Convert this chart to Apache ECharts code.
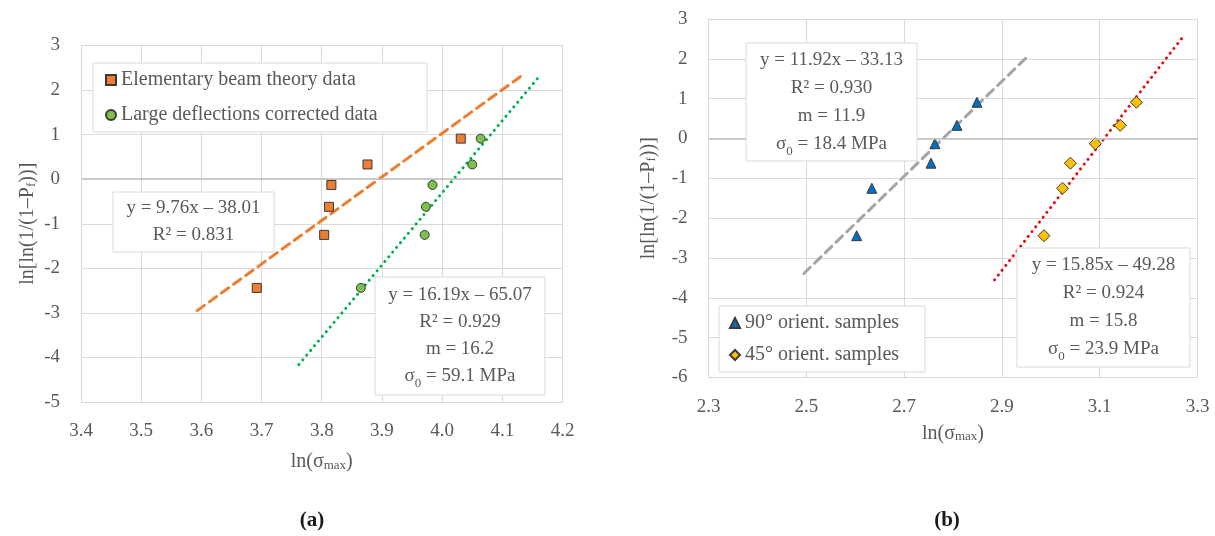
<!DOCTYPE html>
<html>
<head>
<meta charset="utf-8">
<title>Weibull plots</title>
<style>
  html, body { margin: 0; padding: 0; background: #fff; }
  .chart { width: 1215px; height: 536px; }
</style>
</head>
<body>
<div class="chart"></div>
<script src="https://cdn.jsdelivr.net/npm/echarts/dist/echarts.min.js"></script>
<script>
// ---- data ----
// ln[ln(1/(1-Pf))] for the six ranked samples (same for every set)
var rankY = [-2.44, -1.25, -0.62, -0.13, 0.33, 0.91];
// (a) ln(sigma_max)
var beamX = [3.692, 3.804, 3.812, 3.816, 3.876, 4.031];
var largeX = [3.865, 3.971, 3.973, 3.984, 4.050, 4.064];
// (b) ln(sigma_max)
var deg90X = [2.603, 2.634, 2.755, 2.763, 2.808, 2.849];
var deg45X = [2.986, 3.024, 3.040, 3.091, 3.142, 3.175];
// trendline end points
var beamTrend = [[3.593, -2.95], [4.132, 2.32]];
var largeTrend = [[3.762, -4.16], [4.164, 2.35]];
var deg90Trend = [[2.495, -3.39], [2.955, 2.09]];
var deg45Trend = [[2.885, -3.55], [3.270, 2.55]];
// axis ranges [min, max, step]
var xRangeA = [3.4, 4.2, 0.1];
var yRangeA = [-5, 3, 1];
var xRangeB = [2.3, 3.3, 0.2];
var yRangeB = [-6, 3, 1];
// series names and the trendline labels
var namesA = ['Elementary beam theory data', 'Large deflections corrected data'];
var namesB = ['90° orient. samples', '45° orient. samples'];
var eqBeam = ['y = 9.76x – 38.01', 'R² = 0.831'];
var eqLarge = ['y = 16.19x – 65.07', 'R² = 0.929', 'm = 16.2', 'σ{sub|0} = 59.1 MPa'];
var eq90 = ['y = 11.92x – 33.13', 'R² = 0.930', 'm = 11.9', 'σ{sub|0} = 18.4 MPa'];
var eq45 = ['y = 15.85x – 49.28', 'R² = 0.924', 'm = 15.8', 'σ{sub|0} = 23.9 MPa'];

(function () {
  var FONT = 'Liberation Serif';
  var GREY = '#595959';
  var GRIDC = '#d9d9d9';
  var subRich = { sub: { fontFamily: FONT, fontSize: 13, lineHeight: 13, verticalAlign: 'bottom', color: GREY, fill: GREY } };

  function pairs(xs, ys) {
    return xs.map(function (x, i) { return [x, ys[i]]; });
  }

  function xAxisOf(gi, r, gap) {
    return {
      type: 'value', gridIndex: gi, min: r[0], max: r[1], interval: r[2],
      name: 'ln(σ{sub|max})', nameLocation: 'middle', nameGap: gap,
      nameTextStyle: { fontFamily: FONT, fontSize: 20, color: GREY, rich: subRich },
      axisLine: { show: false },
      axisTick: { show: false },
      axisLabel: {
        margin: 20, color: GREY, fontFamily: FONT, fontSize: 19,
        formatter: function (v) { return v.toFixed(1); }
      },
      splitLine: { show: true, lineStyle: { color: GRIDC, width: 1 } }
    };
  }

  function yAxisOf(gi, r, gap) {
    return {
      type: 'value', gridIndex: gi, min: r[0], max: r[1], interval: r[2],
      name: 'ln[ln(1/(1–P{sub|f}))]', nameLocation: 'middle', nameGap: gap, nameRotate: 90,
      nameTextStyle: { fontFamily: FONT, fontSize: 20, color: GREY, rich: subRich },
      axisLine: { show: false },
      axisTick: { show: false },
      axisLabel: { margin: 21, color: GREY, fontFamily: FONT, fontSize: 19 },
      splitLine: { show: true, lineStyle: { color: GRIDC, width: 1 } }
    };
  }

  // trendline as a two point line
  function trend(gi, data, color, dash) {
    return {
      type: 'line', xAxisIndex: gi, yAxisIndex: gi, data: data,
      symbol: 'none', silent: true, z: 2,
      lineStyle: { color: color, width: 3, type: dash, cap: 'round' }
    };
  }

  function scatter(gi, name, data, symbol, size, color, zeroLine) {
    var s = {
      type: 'scatter', name: name, xAxisIndex: gi, yAxisIndex: gi, data: data,
      symbol: symbol, symbolSize: size, z: 4,
      itemStyle: { color: color, borderColor: '#3a3a3a', borderWidth: 1, opacity: 1 }
    };
    if (zeroLine) {
      // Excel draws the horizontal axis at y = 0
      s.markLine = {
        silent: true, symbol: 'none', label: { show: false },
        lineStyle: { color: '#bfbfbf', type: 'solid', width: 1.5 },
        data: [{ yAxis: 0 }]
      };
    }
    return s;
  }

  // white text box for the trendline equation, kept above grid lines
  function eqBox(x, y, w, h, lines, lh) {
    return {
      type: 'group', x: x, y: y, z: 100,
      children: [
        { type: 'rect', z: 100, shape: { x: 0, y: 0, width: w, height: h },
          style: { fill: '#fff', stroke: GRIDC, lineWidth: 1 } },
        { type: 'text', z: 101, x: w / 2, y: h / 2,
          style: {
            text: lines.join('\n'), align: 'center', verticalAlign: 'middle',
            fontFamily: FONT, fontSize: 19, lineHeight: lh, fill: GREY, rich: subRich
          } }
      ]
    };
  }

  function legendOf(names, left, top, pad, gap, textW) {
    return {
      data: names, left: left, top: top, orient: 'vertical', z: 100,
      padding: pad, itemGap: gap, itemWidth: 10, itemHeight: 10,
      backgroundColor: '#fff', borderColor: GRIDC, borderWidth: 1,
      selectedMode: false,
      textStyle: { fontFamily: FONT, fontSize: 20, color: GREY, width: textW, lineHeight: 20 }
    };
  }

  var myChart = echarts.init(document.querySelector('.chart'));
  var option = {
    animation: false,
    backgroundColor: '#fff',
    textStyle: { fontFamily: FONT },
    grid: [
      { left: 81, top: 45.5, width: 481.5, height: 356.5 },
      { left: 708.5, top: 19, width: 489, height: 358.5 }
    ],
    xAxis: [xAxisOf(0, xRangeA, 50), xAxisOf(1, xRangeB, 46)],
    yAxis: [yAxisOf(0, yRangeA, 43), yAxisOf(1, yRangeB, 50)],
    legend: [
      legendOf(namesA, 93, 63, [7, 10, 7, 12], 15, 296),
      legendOf(namesB, 719, 306, [7, 8, 7, 10], 12, 172)
    ],
    series: [
      trend(0, beamTrend, '#ED7D31', [9, 6]),
      trend(0, largeTrend, '#00B050', [0.1, 6]),
      trend(1, deg90Trend, '#A5A5A5', [9, 6]),
      trend(1, deg45Trend, '#E01010', [0.1, 6]),
      scatter(0, namesA[0], pairs(beamX, rankY), 'rect', 9, '#ED7D31', true),
      scatter(0, namesA[1], pairs(largeX, rankY), 'circle', 9, '#7CC04B', false),
      scatter(1, namesB[0], pairs(deg90X, rankY), 'triangle', 10, '#0070C0', true),
      scatter(1, namesB[1], pairs(deg45X, rankY), 'diamond', 12, '#FFC000', false)
    ],
    graphic: [
      eqBox(113, 192, 161, 60, eqBeam, 27),
      eqBox(375, 277, 170, 118, eqLarge, 27),
      eqBox(746, 43, 171, 118, eq90, 28),
      eqBox(1017, 248, 173, 119, eq45, 28),
      { type: 'text', x: 312, y: 521, z: 100,
        style: { text: '(a)', align: 'center', verticalAlign: 'middle', fontFamily: FONT,
                 fontSize: 21, fontWeight: 'bold', fill: '#1a1a1a' } },
      { type: 'text', x: 947, y: 521, z: 100,
        style: { text: '(b)', align: 'center', verticalAlign: 'middle', fontFamily: FONT,
                 fontSize: 21, fontWeight: 'bold', fill: '#1a1a1a' } }
    ]
  };
  myChart.setOption(option);
  window.addEventListener('resize', function () {
    myChart.resize();
  });
})();
</script>
</body>
</html>
